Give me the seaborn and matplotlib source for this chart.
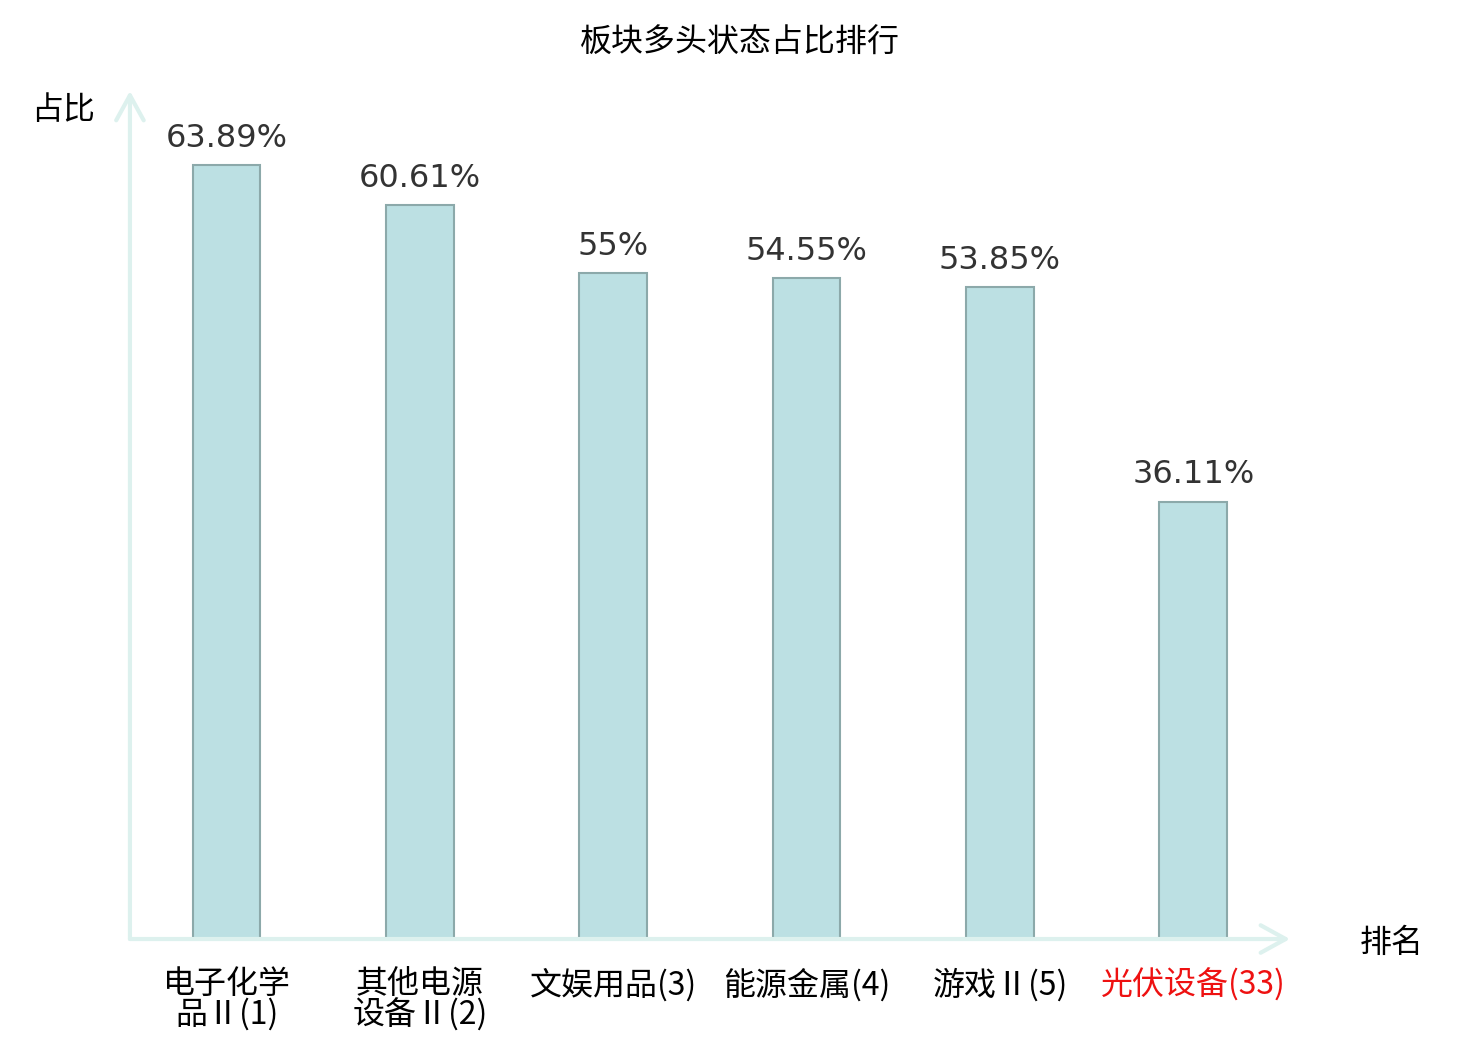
import pandas as pd
import seaborn as sns
import matplotlib.pyplot as plt

categories = ["电子化学\n品Ⅱ(1)", "其他电源\n设备Ⅱ(2)", "文娱用品(3)", "能源金属(4)", "游戏Ⅱ(5)", "光伏设备(33)"]
values = [63.89, 60.61, 55, 54.55, 53.85, 36.11]
label_colors = ["black", "black", "black", "black", "black", "#EE1111"]

df = pd.DataFrame({"cat": categories, "val": values})

sns.set_style("white")
plt.rcParams["font.family"] = ["Noto Sans CJK SC", "DejaVu Sans"]

fig = plt.figure(figsize=(14.8, 10.4), dpi=100)
ax = fig.add_axes([0.0878, 0.0971, 0.7838, 0.8154])

sns.barplot(x="cat", y="val", data=df, ax=ax, width=0.35,
            color="#BCE0E3", saturation=1, edgecolor="#8CA9AA", linewidth=1.5)

ax.set_xlim(-0.5, 5.5)
ax.set_ylim(0, 70)
ax.set_yticks([])
ax.set_xlabel("")
ax.set_ylabel("")
for s in ax.spines.values():
    s.set_visible(False)

# axis lines with open arrow heads
axis_col = "#DDF1EE"
arrow = dict(arrowstyle="->,head_length=1.0,head_width=0.55", color=axis_col, lw=3,
             shrinkA=0, shrinkB=0, mutation_scale=18)
ax.annotate("", xy=(1.0, 0), xytext=(0, 0), xycoords="axes fraction", arrowprops=arrow)
ax.annotate("", xy=(0, 1.0), xytext=(0, 0), xycoords="axes fraction", arrowprops=arrow)

ax.tick_params(axis="x", length=0, pad=21, labelsize=23)
for lbl, c in zip(ax.get_xticklabels(), label_colors):
    lbl.set_color(c)
    lbl.set_linespacing(0.92)

ax.bar_label(ax.containers[0], labels=[f"{v:g}%" for v in values], padding=8,
             fontsize=23, color="#333333", family="DejaVu Sans")

fig.text(0.5, 0.959, "板块多头状态占比排行", ha="center", va="center", fontsize=23, color="black")
fig.text(0.0425, 0.894, "占比", ha="center", va="center", fontsize=23, color="black")
fig.text(0.94, 0.093, "排名", ha="center", va="center", fontsize=23, color="black")

plt.savefig("out.png", dpi=100)
